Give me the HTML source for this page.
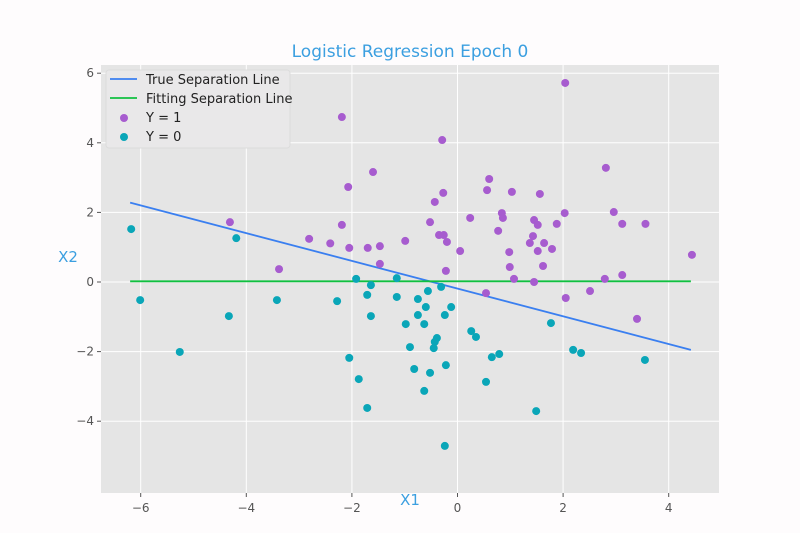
<!DOCTYPE html>
<html><head><meta charset="utf-8"><style>
body{margin:0;background:#fff;}
svg{display:block;font-family:"DejaVu Sans","Liberation Sans",sans-serif;}
</style></head><body>
<svg id="chart" width="800" height="533">
<rect width="800" height="533" fill="#fefcfd"/>
<rect x="101" y="65" width="618" height="428" fill="#e5e5e5"/>
<g id="grid"></g>
<g id="marks"></g>
<g id="ticks"></g>
<text x="410" y="57" text-anchor="middle" font-size="17" fill="#3b9fe0">Logistic Regression Epoch 0</text>
<text x="410" y="505" text-anchor="middle" font-size="15" fill="#3b9fe0">X1</text>
<text x="68" y="262" text-anchor="middle" font-size="15" fill="#3b9fe0">X2</text>
<g>
<rect x="106" y="70" width="184" height="78" rx="3" fill="#e9e8e9" stroke="#dcdcdc"/>
<line x1="110" y1="79" x2="137" y2="79" stroke="#3a7ff0" stroke-width="1.8"/>
<text x="146" y="84" font-size="13" fill="#222">True Separation Line</text>
<line x1="110" y1="98" x2="137" y2="98" stroke="#10c040" stroke-width="1.8"/>
<text x="146" y="103" font-size="13" fill="#222">Fitting Separation Line</text>
<circle cx="124" cy="118" r="4" fill="#a75ccf"/>
<text x="146" y="122" font-size="13" fill="#222">Y = 1</text>
<circle cx="124" cy="137" r="4" fill="#0aa6b8"/>
<text x="146" y="141" font-size="13" fill="#222">Y = 0</text>
</g>
</svg>
<script>
const xTicks=[-6,-4,-2,0,2,4];
const yTicks=[-4,-2,0,2,4,6];
const pos1X=[2.04,-2.19,-0.29,-1.60,2.81,0.60,0.56,1.03,1.56,-2.07,-0.27,-0.43,-2.19,-2.41,-2.05,-1.70,-1.47,-0.99,-0.52,-0.35,-0.26,-0.20,0.05,0.24,-1.47,-0.22,0.54,0.84,0.86,0.77,1.45,1.52,1.88,2.03,2.96,3.12,3.56,1.43,1.37,1.64,1.79,1.52,0.98,0.99,1.62,4.44,1.07,1.45,2.79,3.12,2.51,2.05,3.40,-4.31,-2.81,-3.38];
const pos1Y=[5.72,4.74,4.08,3.16,3.28,2.96,2.64,2.59,2.53,2.73,2.56,2.30,1.64,1.11,0.98,0.98,1.03,1.18,1.72,1.35,1.35,1.15,0.89,1.84,0.52,0.32,-0.32,1.98,1.84,1.47,1.78,1.64,1.67,1.98,2.01,1.67,1.67,1.32,1.12,1.12,0.95,0.89,0.86,0.43,0.46,0.78,0.09,0.0,0.09,0.20,-0.26,-0.46,-1.06,1.72,1.24,0.37];
const neg0X=[-6.18,-6.01,-4.19,-4.33,-5.26,-3.42,-2.28,-1.92,-1.15,-1.64,-1.71,-1.64,-1.15,-0.75,-0.56,-0.31,-0.60,-0.75,-0.12,-0.24,-0.98,-0.63,-0.39,-0.43,-0.45,-0.90,0.26,0.35,1.77,-2.05,-1.87,-1.71,-0.82,-0.52,-0.22,-0.63,0.65,0.79,0.54,1.49,-0.24,2.19,2.34,3.55];
const neg0Y=[1.52,-0.52,1.26,-0.98,-2.01,-0.52,-0.55,0.09,0.11,-0.09,-0.37,-0.98,-0.43,-0.49,-0.26,-0.14,-0.72,-0.95,-0.72,-0.95,-1.21,-1.21,-1.61,-1.72,-1.90,-1.87,-1.41,-1.58,-1.18,-2.18,-2.79,-3.62,-2.50,-2.61,-2.39,-3.13,-2.16,-2.07,-2.87,-3.71,-4.71,-1.95,-2.04,-2.24];
const trueLineX=[-6.2,4.42];
const trueLineY=[2.28,-1.95];
const fitLineX=[-6.2,4.42];
const fitLineY=[0.02,0.02];

const NS="http://www.w3.org/2000/svg";
const sx=v=>457.5+v*52.8;
const sy=v=>282-v*34.8;
const grid=document.getElementById('grid'),marks=document.getElementById('marks'),ticks=document.getElementById('ticks');
function mk(tag,attrs,parent){const e=document.createElementNS(NS,tag);for(const k in attrs)e.setAttribute(k,attrs[k]);parent.appendChild(e);return e;}
xTicks.forEach(t=>{
  const g=mk('line',{x1:sx(t),x2:sx(t),y1:65,y2:493,stroke:'#fff','stroke-width':1},grid);
  
  
  const tk=mk('line',{x1:sx(t),x2:sx(t),y1:493,y2:497,stroke:'#555'},ticks);
  
  
  const l=mk('text',{x:sx(t),y:512,'text-anchor':'middle','font-size':12,fill:'#555'},ticks);
  l.textContent=(t<0?'\u2212'+(-t):t);
  
  
});
yTicks.forEach(t=>{
  const g=mk('line',{x1:101,x2:719,y1:sy(t),y2:sy(t),stroke:'#fff','stroke-width':1},grid);
  
  
  const tk=mk('line',{x1:97,x2:101,y1:sy(t),y2:sy(t),stroke:'#555'},ticks);
  
  
  const l=mk('text',{x:94,y:sy(t)+4,'text-anchor':'end','font-size':12,fill:'#555'},ticks);
  l.textContent=(t<0?'\u2212'+(-t):t);
  
  
});
const tl=mk('line',{x1:sx(trueLineX[0]),y1:sy(trueLineY[0]),x2:sx(trueLineX[1]),y2:sy(trueLineY[1]),stroke:'#3a7ff0','stroke-width':1.8},marks);


const fl=mk('line',{x1:sx(fitLineX[0]),y1:sy(fitLineY[0]),x2:sx(fitLineX[1]),y2:sy(fitLineY[1]),stroke:'#10c040','stroke-width':1.8},marks);


pos1X.forEach((x,i)=>{
  const c=mk('circle',{cx:sx(x),cy:sy(pos1Y[i]),r:4,fill:'#a75ccf'},marks);
  
  
});
neg0X.forEach((x,i)=>{
  const c=mk('circle',{cx:sx(x),cy:sy(neg0Y[i]),r:4,fill:'#0aa6b8'},marks);
  
  
});
</script>
</body></html>
